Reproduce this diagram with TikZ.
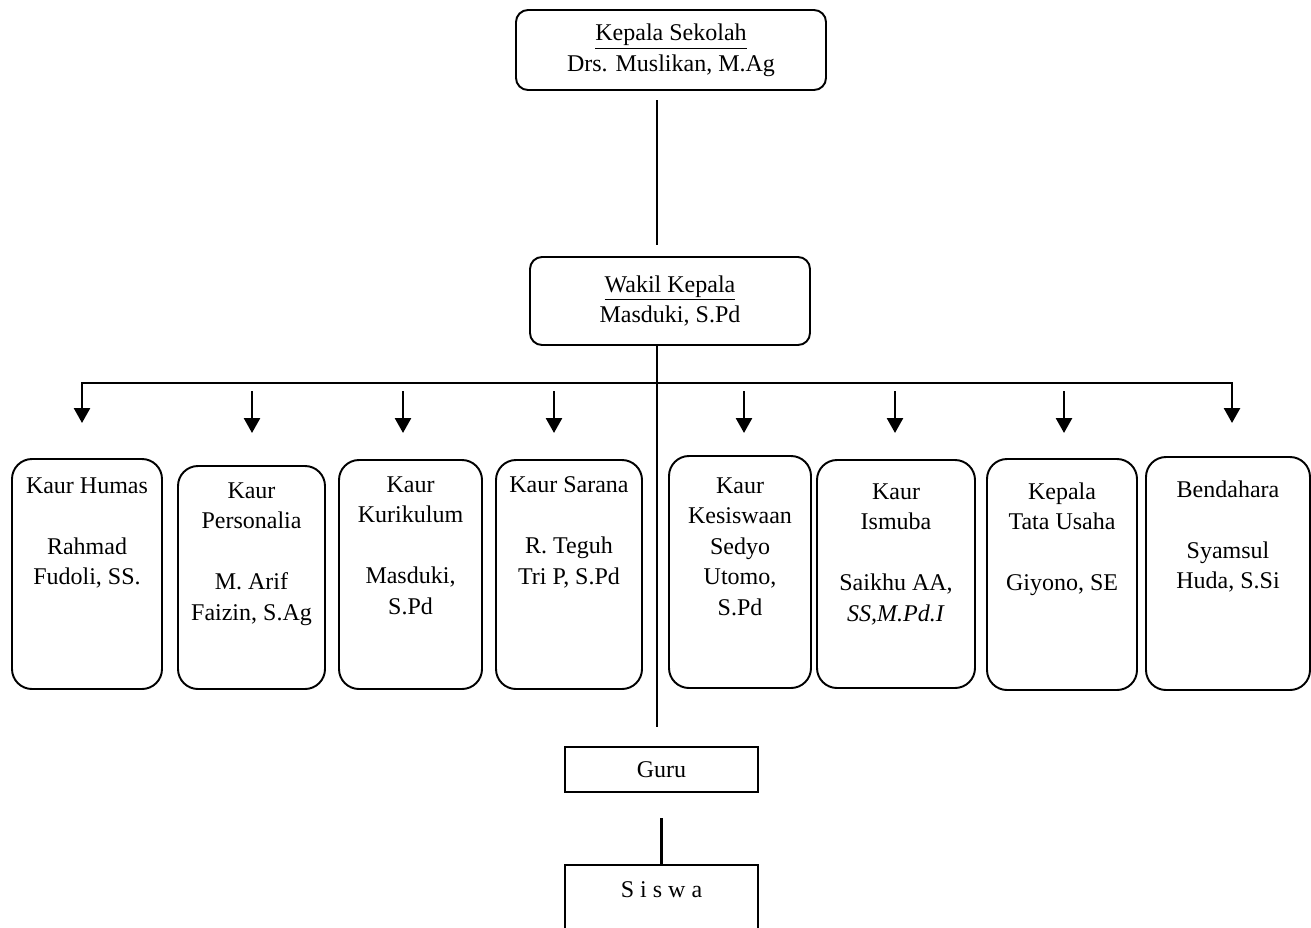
\documentclass[tikz,border=0pt]{standalone}
\usepackage{fontspec}
\setmainfont{Liberation Serif}
\usetikzlibrary{arrows.meta}
\newlength\upx
\setlength\upx{0.02cm}
\begin{document}
\begin{tikzpicture}[x=0.02cm,y=-0.02cm,
  txt/.style={font=\fontsize{13.66pt}{17.4pt}\selectfont, align=center, inner sep=0pt},
  headbox/.style={draw, line width=1.1pt, rounded corners=12\upx, txt},
  kaurbox/.style={draw, line width=1.1pt, rounded corners=20\upx, inner sep=0pt},
  plainbox/.style={draw, line width=1.1pt, inner sep=0pt, txt},
  conn/.style={line width=1.2pt},
  arr/.style={line width=1.5pt, -{Triangle[width=0.32cm,length=0.3cm]}},
  darr/.style={line width=1.5pt, {Triangle[width=0.32cm,length=0.3cm]}-{Triangle[width=0.32cm,length=0.3cm]}}
]
\path[use as bounding box, clip] (0,0) rectangle (1311,927);

% head boxes
\node[headbox, minimum width=310\upx, minimum height=80\upx] (kepsek) at (671,50)
  {\underline{Kepala Sekolah}\\Drs. Muslikan, M.Ag};
\node[headbox, minimum width=280\upx, minimum height=88\upx] (wakil) at (670,301)
  {\underline{Wakil Kepala}\\Masduki, S.Pd};

% kaur boxes
\node[kaurbox, minimum width=150\upx, minimum height=230\upx,
  label={[txt, anchor=north, yshift=-19\upx]north:{Kaur Humas\\ \mbox{}\\Rahmad\\Fudoli, SS.}}] (humas) at (87,574) {};
\node[kaurbox, minimum width=147\upx, minimum height=223\upx,
  label={[txt, anchor=north, yshift=-17\upx]north:{Kaur\\Personalia\\ \mbox{}\\M. Arif\\Faizin, S.Ag}}] (personalia) at (251.5,577.5) {};
\node[kaurbox, minimum width=143\upx, minimum height=229\upx,
  label={[txt, anchor=north, yshift=-17\upx]north:{Kaur\\Kurikulum\\ \mbox{}\\Masduki,\\S.Pd}}] (kurikulum) at (410.5,574.5) {};
\node[kaurbox, minimum width=146\upx, minimum height=229\upx,
  label={[txt, anchor=north, yshift=-17\upx]north:{Kaur Sarana\\ \mbox{}\\R. Teguh\\Tri P, S.Pd}}] (sarana) at (569,574.5) {};
\node[kaurbox, minimum width=142\upx, minimum height=232\upx,
  label={[txt, anchor=north, yshift=-22\upx]north:{Kaur\\Kesiswaan\\Sedyo\\Utomo,\\S.Pd}}] (kesiswaan) at (740,572) {};
\node[kaurbox, minimum width=158\upx, minimum height=228\upx,
  label={[txt, anchor=north, yshift=-24\upx]north:{Kaur\\Ismuba\\ \mbox{}\\Saikhu AA,\\\textit{SS,M.Pd.I}}}] (ismuba) at (896,574) {};
\node[kaurbox, minimum width=150\upx, minimum height=231\upx,
  label={[txt, anchor=north, yshift=-24\upx]north:{Kepala\\Tata Usaha\\ \mbox{}\\Giyono, SE}}] (tu) at (1062,574.5) {};
\node[kaurbox, minimum width=164\upx, minimum height=233\upx,
  label={[txt, anchor=north, yshift=-24\upx]north:{Bendahara\\ \mbox{}\\Syamsul\\Huda, S.Si}}] (bendahara) at (1228,573.5) {};

% guru and siswa
\node[plainbox, minimum width=193\upx, minimum height=45\upx] (guru) at (661.5,769.5) {Guru};
\node[plainbox, minimum width=193\upx, minimum height=126\upx, anchor=north,
  label={[txt, anchor=north, yshift=-17\upx]north:{S i s w a}}] (siswa) at (661.5,864) {};

% connectors
\coordinate (ka) at (657,100);
\coordinate (kb) at (657,245);
\draw[conn] (ka) -- (kb);
\coordinate (vend) at (657,727);
\draw[conn] (wakil.south -| vend) -- (vend);
\coordinate (gs) at (661.5,818);
\draw[conn] (gs) -- (siswa.north);

\coordinate (hl) at (82,383);
\coordinate (hr) at (1232,383);
\coordinate (hlt) at (82,423);
\coordinate (hrt) at (1232,423);
\draw[darr] (hlt) -- (hl) -- (hr) -- (hrt);

\foreach \x in {252,403,554,744,895,1064}{
  \coordinate (as\x) at (\x,391);
  \coordinate (ae\x) at (\x,433);
  \draw[arr] (as\x) -- (ae\x);
}
\end{tikzpicture}
\end{document}
